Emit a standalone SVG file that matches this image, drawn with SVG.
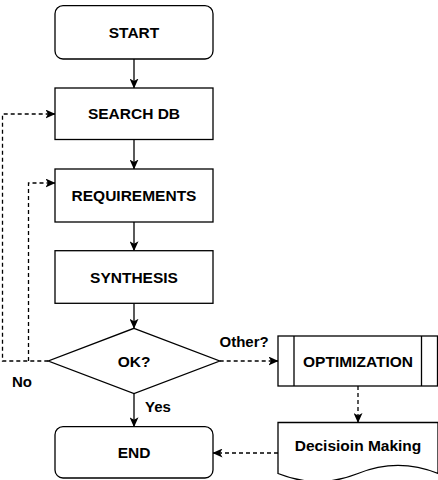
<svg xmlns="http://www.w3.org/2000/svg" width="438" height="480" viewBox="0 0 438 480">
<style>
.n{fill:#fff;stroke:#000;stroke-width:1.3}
.t{font-family:"Liberation Sans",Arial,Helvetica,sans-serif;font-weight:bold;font-size:15.5px;fill:#000;text-anchor:middle}
.l{font-family:"Liberation Sans",Arial,Helvetica,sans-serif;font-weight:bold;font-size:15px;fill:#000}
.c{fill:none;stroke:#000;stroke-width:1.3;marker-end:url(#a)}
.d{stroke-dasharray:4 3}
</style>
<defs>
<marker id="a" markerUnits="userSpaceOnUse" viewBox="0 0 10 9" markerWidth="10" markerHeight="9" refX="9.5" refY="4.5" orient="auto">
<path d="M0,0 L10,4.5 L0,9 L2.5,4.5 Z" fill="#000"/>
</marker>
</defs>
<g id="connectors">
<path class="c" d="M134,59 V88"/>
<path class="c" d="M134,139.5 V169"/>
<path class="c" d="M134,222 V250.7"/>
<path class="c" d="M134,303.3 V328.3"/>
<path class="c" d="M134,393.5 V426.7"/>
<path class="c d" d="M48.3,361 H2.5 V114 H55"/>
<path class="c d" d="M28.5,361 V183 H55"/>
<path class="c d" d="M219.7,361 H278"/>
<path class="c d" d="M358,386 V422.5"/>
<path class="c d" d="M278,453 H213"/>
<text class="l" x="219.5" y="347.3">Other?</text>
<text class="l" x="12" y="387.3">No</text>
<text class="l" x="145" y="412.3">Yes</text>
</g>
<g id="start">
<rect class="n" x="55" y="5.7" width="158" height="53.3" rx="8"/>
<text class="t" x="134" y="38.3">START</text>
</g>
<g id="searchdb">
<rect class="n" x="55" y="88" width="158" height="51.5"/>
<text class="t" x="134" y="119.3">SEARCH DB</text>
</g>
<g id="requirements">
<rect class="n" x="55" y="169" width="158" height="53"/>
<text class="t" x="134" y="201">REQUIREMENTS</text>
</g>
<g id="synthesis">
<rect class="n" x="55" y="250.7" width="158" height="52.6"/>
<text class="t" x="134" y="282.6">SYNTHESIS</text>
</g>
<g id="ok">
<polygon class="n" points="134,328.3 219.7,361 134,393.5 48.3,361"/>
<text class="t" x="134" y="366.6">OK?</text>
</g>
<g id="end">
<rect class="n" x="55" y="426.7" width="158" height="51.3" rx="8"/>
<text class="t" x="134" y="458">END</text>
</g>
<g id="optimization">
<rect class="n" x="278" y="336" width="159.5" height="50"/>
<path class="n" d="M294,336 V386 M421.5,336 V386"/>
<text class="t" x="358" y="366.6">OPTIMIZATION</text>
</g>
<g id="decision">
<path class="n" d="M278,422.5 H438 V473.5 Q398,457.3 358,473.5 Q318,489.7 278,473.5 Z"/>
<text class="t" x="358" y="450.6">Decisioin Making</text>
</g>
</svg>
